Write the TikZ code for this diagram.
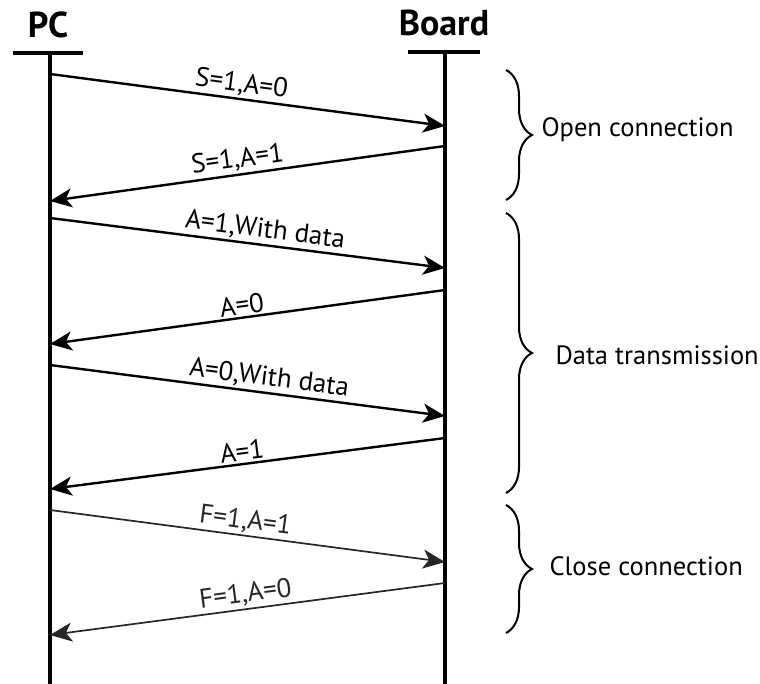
\documentclass[tikz,border=0pt]{standalone}
\usepackage{fontspec}
\setmainfont{PT Sans}
\usetikzlibrary{arrows.meta,decorations.pathreplacing}

\begin{document}
\begin{tikzpicture}[x=1pt,y=-1pt]

		\useasboundingbox (0,0) rectangle (760,684);

		\tikzstyle{life} = [draw,line width=4pt]
		\tikzset{msg/.style = {draw,line width=2.4pt,-{Stealth[length=22pt,width=19pt,inset=6pt]}}}
		\tikzset{thinmsg/.style = {msg,line width=1.7pt,black!85}}
		\tikzset{lbl/.style = {above,sloped,inner sep=2pt,font=\fontsize{27}{30}\selectfont}}
		\tikzset{head/.style = {font=\bfseries\fontsize{36}{40}\selectfont}}
		\tikzset{phase/.style = {draw,line width=2pt,decorate,decoration={brace,amplitude=26pt}}}
		\tikzset{note/.style = {anchor=west,font=\fontsize{26.5}{30}\selectfont}}

		\node[head] (pc) at (48,25) {PC};
		\node[head] (board) at (444,23) {Board};

		\coordinate (pcl) at (13,53);
		\coordinate (pcr) at (83,53);
		\coordinate (bdl) at (408,52);
		\coordinate (bdr) at (480,52);
		\coordinate (pctop) at (50,53);
		\coordinate (pcend) at (50,684);
		\coordinate (bdtop) at (445,52);
		\coordinate (bdend) at (445,684);

		\draw[life] (pcl) to (pcr);
		\draw[life] (bdl) to (bdr);
		\draw[life] (pctop) to (pcend);
		\draw[life] (bdtop) to (bdend);

		\coordinate (p1) at (50,74);
		\coordinate (b1) at (445,126);
		\coordinate (b2) at (445,146);
		\coordinate (p2) at (50,201);
		\coordinate (p3) at (50,218);
		\coordinate (b3) at (445,268);
		\coordinate (b4) at (445,290);
		\coordinate (p4) at (50,344);
		\coordinate (p5) at (50,365);
		\coordinate (b5) at (445,416);
		\coordinate (b6) at (445,438);
		\coordinate (p6) at (50,489);
		\coordinate (p7) at (50,510);
		\coordinate (b7) at (445,562);
		\coordinate (b8) at (445,583);
		\coordinate (p8) at (50,635);

		\draw[msg] (p1) to node[lbl,pos=0.48] {S=1,A=0} (b1);
		\draw[msg] (b2) to node[lbl,pos=0.52] {S=1,A=1} (p2);
		\draw[msg] (p3) to node[lbl,pos=0.54] {A=1,With data} (b3);
		\draw[msg] (b4) to node[lbl,pos=0.51] {A=0} (p4);
		\draw[msg] (p5) to node[lbl,pos=0.55] {A=0,With data} (b5);
		\draw[msg] (b6) to node[lbl,pos=0.51] {A=1} (p6);
		\draw[thinmsg] (p7) to node[lbl,pos=0.49] {F=1,A=1} (b7);
		\draw[thinmsg] (b8) to node[lbl,pos=0.5] {F=1,A=0} (p8);

		\coordinate (o1) at (506,70);
		\coordinate (o2) at (506,200);
		\coordinate (d1) at (506,213);
		\coordinate (d2) at (506,493);
		\coordinate (c1) at (506,505);
		\coordinate (c2) at (506,633);

		\draw[phase] (o1) to (o2);
		\draw[phase] (d1) to (d2);
		\draw[phase] (c1) to (c2);

		\node[note] (open) at (538,130) {Open connection};
		\node[note] (data) at (552,355) {Data transmission};
		\node[note] (close) at (546,566) {Close connection};
\end{tikzpicture}
\end{document}
